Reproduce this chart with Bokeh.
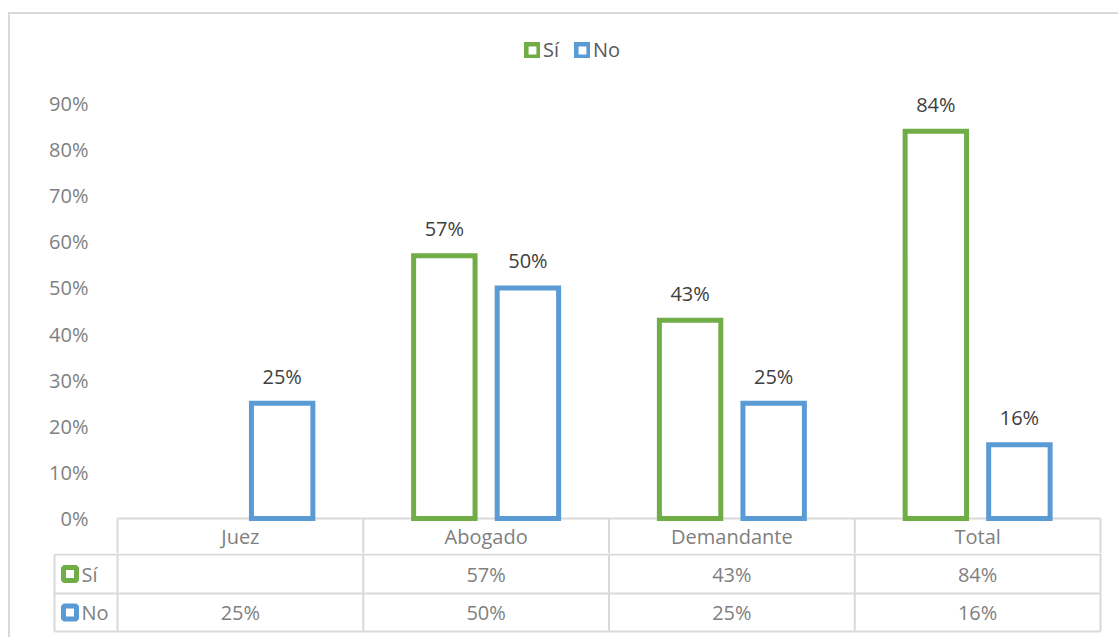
from bokeh.plotting import figure
from bokeh.models import (ColumnDataSource, FactorRange, Range1d, FixedTicker,
                          NumeralTickFormatter, Legend, LegendItem, Spacer)
from bokeh.transform import dodge
from bokeh.layouts import column, row
from bokeh.embed import file_html
from bokeh.resources import INLINE
from bokeh.core.properties import value

# ---------------- data ----------------
categories = ["Juez", "Abogado", "Demandante", "Total"]
series_names = ["Sí", "No"]
si_values = [None, 0.57, 0.43, 0.84]
no_values = [0.25, 0.50, 0.25, 0.16]
y_ticks = [0.0, 0.1, 0.2, 0.3, 0.4, 0.5, 0.6, 0.7, 0.8, 0.9]

# ---------------- style / layout ----------------
GREEN = "#70AD47"
BLUE = "#5B9BD5"
GRID = "#D9D9D9"
AXIS_TEXT = "#7F7F7F"
LABEL_TEXT = "#404040"
LEGEND_TEXT = "#595959"
FONT = "Open Sans"
FS = "20px"

PX_PER_UNIT = 461.1   # vertical pixels for 100 %
CAT_PX = 245.75       # horizontal pixels per category
BAR_W = 0.25
OFFSET = 0.17
EDGE = 2 / CAT_PX


def pct(v):
    return "" if v is None else f"{round(v * 100)}%"


# ---------------- chart figure (bars + header row of the table) ----------------
pA = figure(width=1108, height=539,
            x_range=FactorRange(factors=categories, range_padding=EDGE / 2,
                                range_padding_units="percent"),
            y_range=Range1d(-35 / PX_PER_UNIT, 504 / PX_PER_UNIT),
            min_border_left=105, min_border_right=16,
            min_border_top=0, min_border_bottom=0,
            x_axis_location=None,
            output_backend="svg", toolbar_location=None)
pA.frame_align = False
pA.outline_line_color = None
pA.grid.visible = False

ya = pA.yaxis[0]
ya.ticker = FixedTicker(ticks=y_ticks)
ya.formatter = NumeralTickFormatter(format="0%")
ya.axis_line_color = None
ya.major_tick_line_color = None
ya.minor_tick_line_color = None
ya.major_label_standoff = 21
ya.major_label_text_font = FONT
ya.major_label_text_font_size = FS
ya.major_label_text_color = AXIS_TEXT

# header row of the data table
HEADER_Y = -18 / PX_PER_UNIT
src_cat = ColumnDataSource(dict(cat=list(categories)))
src_last = ColumnDataSource(dict(cat=[categories[-1]]))
src_first = ColumnDataSource(dict(cat=[categories[0]]))
pA.segment(x0=dodge("cat", -0.5, range=pA.x_range), x1=dodge("cat", -0.5, range=pA.x_range),
           y0=0, y1=-1, source=src_cat, line_color=GRID, line_width=2)
pA.segment(x0=dodge("cat", 0.5, range=pA.x_range), x1=dodge("cat", 0.5, range=pA.x_range),
           y0=0, y1=-1, source=src_last, line_color=GRID, line_width=2)
pA.segment(x0=dodge("cat", -0.5, range=pA.x_range),
           x1=dodge("cat", len(categories) - 0.5, range=pA.x_range),
           y0=0, y1=0, source=src_first, line_color=GRID, line_width=2)
pA.text(x="cat", y=HEADER_Y, text="cat", source=src_cat,
        text_align="center", text_baseline="middle", text_font=value(FONT),
        text_font_size=FS, text_color=AXIS_TEXT)

si_idx = [i for i, v in enumerate(si_values) if v is not None]
src_si = ColumnDataSource(dict(
    cat=[categories[i] for i in si_idx],
    val=[si_values[i] for i in si_idx],
    lbl=[pct(si_values[i]) for i in si_idx]))
src_no = ColumnDataSource(dict(
    cat=list(categories), val=list(no_values),
    lbl=[pct(v) for v in no_values]))

r_si = pA.vbar(x=dodge("cat", -OFFSET, range=pA.x_range), top="val", bottom=0,
               width=BAR_W, source=src_si, fill_color="white",
               line_color=GREEN, line_width=5, line_join="miter")
r_no = pA.vbar(x=dodge("cat", OFFSET, range=pA.x_range), top="val", bottom=0,
               width=BAR_W, source=src_no, fill_color="white",
               line_color=BLUE, line_width=5, line_join="miter")

for src, off in ((src_si, -OFFSET), (src_no, OFFSET)):
    pA.text(x=dodge("cat", off, range=pA.x_range), y="val", text="lbl",
            source=src, text_align="center", text_baseline="middle",
            y_offset=-27, text_font=value(FONT), text_font_size=FS,
            text_color=LABEL_TEXT)

legend = Legend(items=[LegendItem(label=series_names[0], renderers=[r_si]),
                       LegendItem(label=series_names[1], renderers=[r_no])],
                orientation="horizontal", location=(409, 490),
                glyph_width=16, glyph_height=16, label_standoff=3, spacing=11,
                padding=0, margin=0, border_line_color=None,
                background_fill_alpha=0,
                label_text_font=FONT, label_text_font_size=FS,
                label_text_color=LEGEND_TEXT)
pA.add_layout(legend)

# ---------------- data table rows (with legend keys) ----------------
LEG_LEFT = -63 / CAT_PX
pB = figure(width=1108, height=84,
            x_range=Range1d(-65 / CAT_PX, len(categories) + EDGE),
            y_range=Range1d(119, 35),
            min_border_left=42, min_border_right=16,
            min_border_top=0, min_border_bottom=0,
            x_axis_location=None, y_axis_location=None,
            output_backend="svg", toolbar_location=None)
pB.frame_align = False
pB.outline_line_color = None
pB.grid.visible = False

ROW_EDGES = [36, 75, 113]     # Sí / No rows (px below the zero line)
n = len(categories)
bounds = list(range(n + 1))
centers = [i + 0.5 for i in range(n)]

pB.segment(x0=bounds, x1=bounds, y0=[35] * len(bounds),
           y1=[ROW_EDGES[-1]] * len(bounds), line_color=GRID, line_width=2)
pB.segment(x0=[LEG_LEFT], x1=[LEG_LEFT], y0=[ROW_EDGES[0]], y1=[ROW_EDGES[-1]],
           line_color=GRID, line_width=2)
pB.segment(x0=[LEG_LEFT] * 3, x1=[n] * 3, y0=ROW_EDGES, y1=ROW_EDGES,
           line_color=GRID, line_width=2)

row_mid = [(ROW_EDGES[i] + ROW_EDGES[i + 1]) / 2 for i in range(2)]
txt = dict(text_align="center", text_baseline="middle",
           text_font=value(FONT), text_font_size=FS, text_color=AXIS_TEXT)
pB.text(x=centers, y=[row_mid[0]] * n, text=[pct(v) for v in si_values], **txt)
pB.text(x=centers, y=[row_mid[1]] * n, text=[pct(v) for v in no_values], **txt)

key_x = (69.5 - 117) / CAT_PX
lab_x = (81 - 117) / CAT_PX
pB.scatter(x=[key_x, key_x], y=row_mid, marker="square", size=13,
           fill_color="white", line_color=[GREEN, BLUE], line_width=5)
pB.text(x=[lab_x, lab_x], y=row_mid, text=series_names,
        text_align="left", text_baseline="middle", text_font=value(FONT),
        text_font_size=FS, text_color=AXIS_TEXT)

# ---------------- outer chart border (left + top) ----------------
top_line = Spacer(width=1110, height=2, styles={"background-color": GRID})
left_line = Spacer(width=2, height=623, styles={"background-color": GRID})
layout = column(Spacer(width=1118, height=12),
                row(Spacer(width=8, height=2), top_line, spacing=0),
                row(Spacer(width=8, height=623), left_line,
                    column(pA, pB, spacing=0), spacing=0),
                spacing=0)

open("out.html", "w").write(file_html(layout, INLINE))
